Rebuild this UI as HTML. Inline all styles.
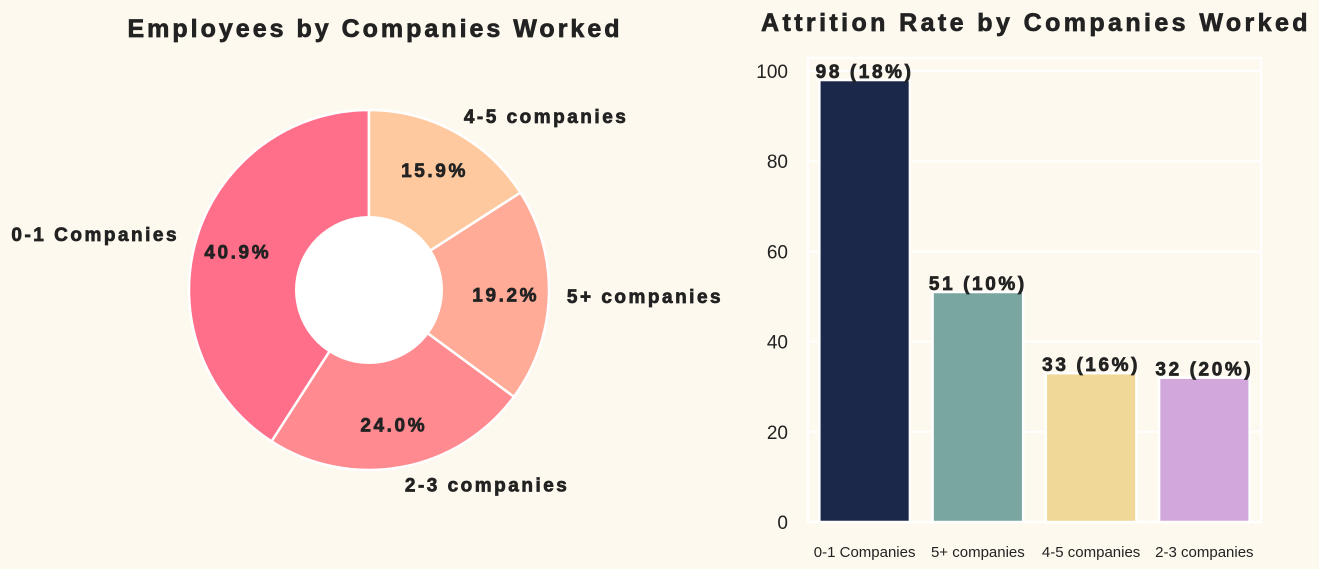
<!DOCTYPE html>
<html><head><meta charset="utf-8">
<style>
body{margin:0;background:#fef9ee;}
svg{display:block;font-family:"Liberation Sans",Arial,sans-serif;}
.hv{font-weight:bold;stroke:#222;stroke-width:0.7;}
</style></head>
<body>
<svg id="chart" width="1319" height="569" viewBox="0 0 1319 569">
<rect width="1319" height="569" fill="#fef9ee"/>
<text class="hv" x="375" y="37" text-anchor="middle" font-size="25" letter-spacing="3" fill="#222">Employees by Companies Worked</text>
<text class="hv" x="1036" y="31" text-anchor="middle" font-size="25" letter-spacing="3.4" fill="#222">Attrition Rate by Companies Worked</text>
<g id="pie"></g>
<g id="bars"></g>
</svg>
<script>
const pieLabels=["0-1 Companies","2-3 companies","5+ companies","4-5 companies"];
const pieValues=[40.9,24.0,19.2,15.9];
const pieColors=["#ff6f8a","#ff8a90","#ffab98","#ffc9a0"];
const barCats=["0-1 Companies","5+ companies","4-5 companies","2-3 companies"];
const barValues=[98,51,33,32];
const barPct=["18%","10%","16%","20%"];
const barColors=["#1b2849","#79a69f","#f0d898","#d2a8dc"];
const yTicks=[0,20,40,60,80,100];

const NS="http://www.w3.org/2000/svg";
function mk(t,a,p){const e=document.createElementNS(NS,t);for(const k in a)e.setAttribute(k,a[k]);p.appendChild(e);return e;}

const pie=document.getElementById('pie');
const cx=369,cy=290,R=180,r0=74;
const tot=pieValues.reduce((a,b)=>a+b,0);
let ang=90;
pieValues.forEach((v,i)=>{
  const sweep=v/tot*360;
  const a1=ang*Math.PI/180,a2=(ang+sweep)*Math.PI/180;
  const x1=cx+R*Math.cos(a1),y1=cy-R*Math.sin(a1),x2=cx+R*Math.cos(a2),y2=cy-R*Math.sin(a2);
  const large=sweep>180?1:0;
  const p=mk('path',{d:`M${cx},${cy} L${x1},${y1} A${R},${R} 0 ${large} 0 ${x2},${y2} Z`,fill:pieColors[i],stroke:'#fff','stroke-width':2.5},pie);
  
  
  const mid=(ang+sweep/2)*Math.PI/180;
  const pt=mk('text',{x:cx+0.76*R*Math.cos(mid),y:cy-0.76*R*Math.sin(mid)+7,'text-anchor':'middle','font-size':19,'letter-spacing':2.6,class:'hv',fill:'#222'},pie);
  pt.textContent=v.toFixed(1)+'%';
  
  
  const lx=cx+1.1*R*Math.cos(mid),ly=cy-1.1*R*Math.sin(mid);
  const c=Math.cos(mid);
  const lt=mk('text',{x:lx,y:ly+7,'text-anchor':c<-0.1?'end':(c>0.1?'start':'middle'),'font-size':19,'letter-spacing':2.5,class:'hv',fill:'#222'},pie);
  lt.textContent=pieLabels[i];
  
  
  ang+=sweep;
});
const hole=mk('circle',{cx:cx,cy:cy,r:r0,fill:'#fff'},pie);



const g=document.getElementById('bars');
const L=808,Rr=1261,T=58,B=522;
const yMax=(B-T)/((B-71)/100);
const y=v=>B-v/yMax*(B-T);
const band=(Rr-L)/barCats.length;
const xc=i=>L+band*(i+0.5);
yTicks.forEach(t=>{
  const l=mk('line',{x1:L,x2:Rr,y1:y(t),y2:y(t),stroke:'#fff','stroke-width':2},g);
  
  
  const tx=mk('text',{x:L-20,y:y(t)+7,'text-anchor':'end','font-size':19,fill:'#222'},g);
  tx.textContent=t;
  
  
});
const fr=mk('rect',{x:L,y:T,width:Rr-L,height:B-T,fill:'none',stroke:'#fff','stroke-width':2.5},g);


const bw=band*0.8;
barValues.forEach((v,i)=>{
  const b=mk('rect',{x:xc(i)-bw/2,y:y(v),width:bw,height:B-y(v),fill:barColors[i],stroke:'#fff','stroke-width':2.5},g);
  
  
  const t=mk('text',{x:xc(i),y:y(v)-2,'text-anchor':'middle','font-size':19,'letter-spacing':2.6,class:'hv',fill:'#222'},g);
  t.textContent=v+' ('+barPct[i]+')';
  
  
  const c=mk('text',{x:xc(i),y:557,'text-anchor':'middle','font-size':15,fill:'#222'},g);
  c.textContent=barCats[i];
  
  
});
</script>
</body></html>
